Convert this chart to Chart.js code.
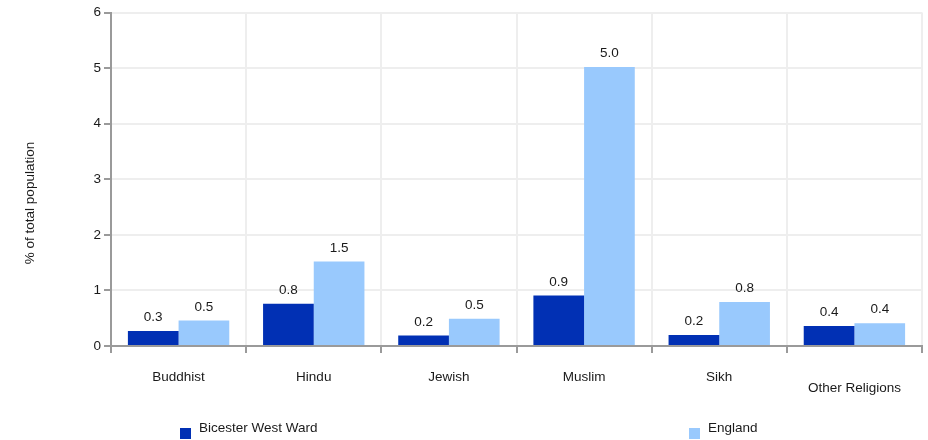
<!DOCTYPE html>
<html>
<head>
<meta charset="utf-8">
<script src="https://cdn.jsdelivr.net/npm/chart.js@4.4.0/dist/chart.umd.min.js"></script>
<style>
  html, body { margin: 0; padding: 0; background: #ffffff; }
  #wrap { position: relative; width: 928px; height: 440px; }
</style>
</head>
<body>
<div id="wrap"><canvas id="c" width="928" height="440"></canvas></div>
<script>
const categories = ['Buddhist', 'Hindu', 'Jewish', 'Muslim', 'Sikh', ['', 'Other Religions']];
const seriesNames = ['Bicester West Ward', 'England'];
const bicesterValues = [0.27, 0.76, 0.19, 0.91, 0.2, 0.36];
const englandValues = [0.46, 1.52, 0.49, 5.02, 0.79, 0.41];
const seriesColors = ['#0130b4', '#99c9fd'];
const yTicks = [0, 1, 2, 3, 4, 5, 6];
const yTitle = '% of total population';

const FONT = '"Liberation Sans", Arial, sans-serif';
const TEXT = '#1a1a1a';

const valueLabels = {
  id: 'valueLabels',
  afterDatasetsDraw(chart) {
    const ctx = chart.ctx;
    ctx.save();
    ctx.font = '13.5px ' + FONT;
    ctx.fillStyle = TEXT;
    ctx.textAlign = 'center';
    ctx.textBaseline = 'middle';
    chart.data.datasets.forEach((ds, di) => {
      chart.getDatasetMeta(di).data.forEach((bar, i) => {
        ctx.fillText(ds.data[i].toFixed(1), bar.x, bar.y - 13.5);
      });
    });
    ctx.restore();
  }
};

const sideTitle = {
  id: 'sideTitle',
  afterDraw(chart) {
    const ctx = chart.ctx;
    ctx.save();
    ctx.font = '13.5px ' + FONT;
    ctx.fillStyle = TEXT;
    ctx.textAlign = 'center';
    ctx.textBaseline = 'middle';
    ctx.translate(30, 203);
    ctx.rotate(-Math.PI / 2);
    ctx.fillText(yTitle, 0, 0);
    ctx.restore();
  }
};

const spreadLegend = {
  id: 'spreadLegend',
  afterDraw(chart) {
    const ctx = chart.ctx;
    const xs = [180, 689];
    ctx.save();
    ctx.font = '13.5px ' + FONT;
    ctx.textAlign = 'left';
    ctx.textBaseline = 'middle';
    chart.data.datasets.forEach((ds, i) => {
      ctx.fillStyle = ds.backgroundColor;
      ctx.fillRect(xs[i], 428, 11, 11);
      ctx.fillStyle = TEXT;
      ctx.fillText(ds.label, xs[i] + 19, 428);
    });
    ctx.restore();
  }
};

new Chart(document.getElementById('c'), {
  type: 'bar',
  data: {
    labels: categories,
    datasets: [
      { label: seriesNames[0], data: bicesterValues, backgroundColor: seriesColors[0] },
      { label: seriesNames[1], data: englandValues, backgroundColor: seriesColors[1] }
    ]
  },
  options: {
    responsive: false,
    animation: false,
    devicePixelRatio: 1,
    datasets: { bar: { categoryPercentage: 0.75, barPercentage: 1.0 } },
    layout: { padding: { top: 0, right: 6, left: 0, bottom: 0 } },
    plugins: {
      legend: { display: false },
      tooltip: { enabled: false }
    },
    scales: {
      x: {
        afterFit(scale) { scale.height = 94; },
        grid: { offset: true, color: '#eeeeee', lineWidth: 2, tickColor: '#9a9a9a', tickWidth: 2, tickLength: 7 },
        border: { color: '#9a9a9a', width: 2 },
        ticks: { color: TEXT, font: { family: FONT, size: 13.5, lineHeight: 0.8 }, padding: 19, maxRotation: 0, autoSkip: false }
      },
      y: {
        min: 0,
        max: 6,
        afterFit(scale) { scale.width = 111; scale.paddingTop = 12.5; },
        afterBuildTicks(scale) { scale.ticks = yTicks.map(v => ({ value: v })); },
        grid: { color: '#eeeeee', lineWidth: 2, tickColor: '#9a9a9a', tickWidth: 2, tickLength: 7 },
        border: { color: '#9a9a9a', width: 2 },
        ticks: { color: TEXT, font: { family: FONT, size: 13.5 }, padding: 3 }
      }
    }
  },
  plugins: [valueLabels, sideTitle, spreadLegend]
});
</script>
</body>
</html>
